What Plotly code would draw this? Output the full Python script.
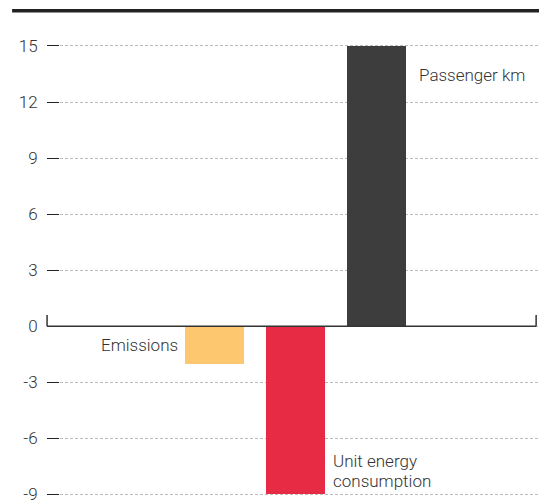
import plotly.graph_objects as go

# Percentage change by indicator
categories = ["Emissions", "Unit energy consumption", "Passenger km"]
values = [-2, -9, 15]
colors = ["#FDC770", "#E72B45", "#3D3D3D"]
tick_vals = [-9, -6, -3, 0, 3, 6, 9, 12, 15]

positions = list(range(len(categories)))
bar_width = 0.73

fig = go.Figure(
    go.Bar(
        x=positions,
        y=values,
        width=bar_width,
        marker=dict(color=colors, line=dict(width=0)),
        hoverinfo="skip",
    )
)

label_font = dict(family="Roboto", size=17, color="#333333", weight=300)

# Category labels beside their bars
fig.add_annotation(x=positions[0] - bar_width / 2, y=-1, text=categories[0],
                   xanchor="right", yanchor="middle", xshift=-5, showarrow=False,
                   font=label_font)
# two-line label, set line by line for tighter leading
for text, yv in (("Unit energy", -7.23), ("consumption", -8.28)):
    fig.add_annotation(x=positions[1] + bar_width / 2, y=yv, text=text,
                       xanchor="left", yanchor="middle", xshift=6, showarrow=False,
                       font=label_font, align="left")
fig.add_annotation(x=positions[2] + bar_width / 2, y=13.45, text=categories[2],
                   xanchor="left", yanchor="middle", xshift=11, showarrow=False,
                   font=label_font)

# Baseline with end ticks
line_col = "#333333"
fig.add_shape(type="line", xref="paper", yref="y", x0=-0.027, x1=0.994, y0=0, y1=0,
              line=dict(color=line_col, width=1.5))
for xp in (-0.027, 0.994):
    fig.add_shape(type="line", xref="paper", yref="y", x0=xp, x1=xp, y0=0, y1=0.6,
                  line=dict(color=line_col, width=1.5))

# Heavy rule along the top
fig.add_shape(type="line", xref="paper", yref="paper", x0=-0.1, x1=1.0, y0=1.0434, y1=1.0434,
              line=dict(color="#222222", width=3.5))

fig.update_layout(
    width=539,
    height=504,
    margin=dict(l=60, r=0, t=31, b=1),
    paper_bgcolor="white",
    plot_bgcolor="white",
    showlegend=False,
    bargap=0,
    xaxis=dict(
        range=[-1.907, 4.007],
        showticklabels=False,
        showgrid=False,
        zeroline=False,
        showline=False,
        ticks="",
        fixedrange=True,
    ),
    yaxis=dict(
        range=[-9.3, 15.8],
        tickvals=tick_vals,
        ticktext=[str(v) for v in tick_vals],
        ticks="outside",
        ticklen=12,
        tickwidth=1.2,
        tickcolor="#222222",
        ticklabelstandoff=6,
        ticklabeloverflow="allow",
        tickfont=dict(family="Roboto", size=17, color="#333333", weight=300),
        showgrid=True,
        gridcolor="#BBBBBB",
        gridwidth=1,
        griddash="3px,2px",
        zeroline=False,
        showline=False,
        fixedrange=True,
    ),
)

fig.write_html("out.html")
